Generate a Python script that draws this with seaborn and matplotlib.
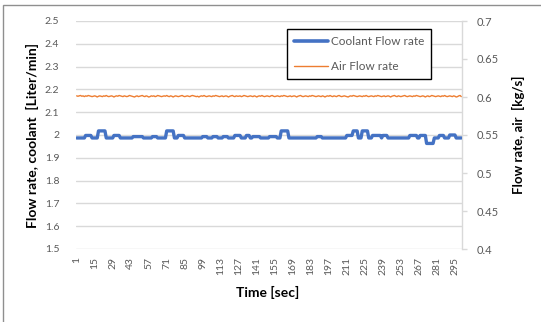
import matplotlib
matplotlib.use("Agg")
import matplotlib.pyplot as plt
from matplotlib.patches import Rectangle
from matplotlib.lines import Line2D
import seaborn as sns
import pandas as pd

# ---------------- data ----------------
time_sec = list(range(1, 301))
x_tick_labels = list(range(1, 301, 14))
left_ticks = [1.5, 1.6, 1.7, 1.8, 1.9, 2.0, 2.1, 2.2, 2.3, 2.4, 2.5]
left_tick_labels = ["1.5", "1.6", "1.7", "1.8", "1.9", "2", "2.1", "2.2", "2.3", "2.4", "2.5"]
right_ticks = [0.4, 0.45, 0.5, 0.55, 0.6, 0.65, 0.7]
right_tick_labels = ["0.4", "0.45", "0.5", "0.55", "0.6", "0.65", "0.7"]

coolant_flow = [
    1.987, 1.987, 1.987, 1.987, 1.987, 1.987, 1.987, 1.998, 1.998, 1.998, 1.998, 1.998, 1.987, 1.987, 1.987, 1.987, 1.987, 2.018, 2.018, 2.018,
    2.018, 2.018, 2.018, 1.987, 1.987, 1.987, 1.987, 1.987, 1.987, 1.998, 1.998, 1.998, 1.998, 1.998, 1.987, 1.987, 1.987, 1.987, 1.987, 1.987,
    1.987, 1.987, 1.987, 1.987, 1.993, 1.993, 1.993, 1.993, 1.993, 1.993, 1.993, 1.993, 1.987, 1.987, 1.987, 1.987, 1.987, 1.987, 1.987, 1.993,
    1.993, 1.993, 1.993, 1.987, 1.987, 1.987, 1.987, 1.987, 1.987, 1.987, 2.018, 2.018, 2.018, 2.018, 2.018, 2.018, 1.987, 1.987, 1.987, 1.998,
    1.998, 1.998, 1.998, 1.998, 1.987, 1.987, 1.987, 1.987, 1.987, 1.987, 1.987, 1.987, 1.987, 1.987, 1.987, 1.987, 1.987, 1.987, 1.993, 1.993,
    1.993, 1.993, 1.987, 1.987, 1.987, 1.987, 1.993, 1.993, 1.993, 1.993, 1.987, 1.987, 1.987, 1.987, 1.993, 1.993, 1.993, 1.993, 1.987, 1.987,
    1.987, 1.987, 1.987, 1.998, 1.998, 1.998, 1.998, 1.998, 1.987, 1.987, 1.987, 1.987, 1.998, 1.998, 1.998, 1.987, 1.987, 1.993, 1.993, 1.993,
    1.993, 1.993, 1.993, 1.987, 1.987, 1.987, 1.987, 1.987, 1.987, 1.987, 1.993, 1.993, 1.993, 1.993, 1.993, 1.993, 1.987, 1.987, 1.987, 2.018,
    2.018, 2.018, 2.018, 2.018, 2.018, 1.987, 1.987, 1.987, 1.987, 1.987, 1.987, 1.987, 1.987, 1.987, 1.987, 1.987, 1.987, 1.987, 1.987, 1.987,
    1.987, 1.987, 1.987, 1.987, 1.987, 1.987, 1.987, 1.993, 1.993, 1.993, 1.993, 1.987, 1.987, 1.987, 1.987, 1.987, 1.987, 1.987, 1.987, 1.987,
    1.987, 1.987, 1.987, 1.987, 1.987, 1.987, 1.987, 1.987, 1.987, 1.987, 1.998, 1.998, 1.998, 1.998, 1.998, 2.018, 2.018, 2.018, 2.018, 1.987,
    1.987, 1.987, 2.018, 2.018, 2.018, 2.018, 2.018, 1.987, 1.987, 1.987, 1.998, 1.998, 1.998, 1.998, 1.998, 1.998, 1.998, 1.987, 1.998, 1.998,
    1.998, 1.998, 1.987, 1.987, 1.987, 1.987, 1.987, 1.987, 1.987, 1.987, 1.987, 1.987, 1.987, 1.987, 1.987, 1.987, 1.987, 1.987, 1.987, 1.998,
    1.998, 1.998, 1.998, 1.998, 1.998, 1.987, 1.987, 1.998, 1.998, 1.998, 1.998, 1.998, 1.963, 1.963, 1.963, 1.963, 1.963, 1.963, 1.987, 1.987,
    1.987, 1.987, 1.998, 1.998, 1.998, 1.998, 1.987, 1.987, 1.987, 1.987, 2.000, 2.000, 2.000, 2.000, 2.000, 1.987, 1.987, 1.987, 1.987, 1.987,
]

air_flow = [
    0.6015, 0.6010, 0.6015, 0.6020, 0.6010, 0.6015, 0.6005, 0.6015, 0.6010, 0.6020, 0.6015, 0.6010, 0.6005, 0.6010, 0.6015, 0.6010, 0.6000, 0.6010, 0.6015, 0.6010,
    0.6005, 0.6015, 0.6010, 0.6020, 0.6010, 0.6005, 0.6010, 0.6015, 0.6010, 0.6000, 0.6010, 0.6015, 0.6010, 0.6020, 0.6015, 0.6010, 0.6005, 0.6015, 0.6010, 0.6005,
    0.6010, 0.6020, 0.6015, 0.6010, 0.6005, 0.6000, 0.6010, 0.6015, 0.6005, 0.6010, 0.6015, 0.6020, 0.6010, 0.6005, 0.6015, 0.6010, 0.6000, 0.6005, 0.6015, 0.6010,
    0.6015, 0.6005, 0.6010, 0.6020, 0.6015, 0.6010, 0.6005, 0.6010, 0.6015, 0.6010, 0.6020, 0.6010, 0.6005, 0.6015, 0.6010, 0.6000, 0.6010, 0.6015, 0.6010, 0.6005,
    0.6010, 0.6015, 0.6020, 0.6010, 0.6005, 0.6010, 0.6015, 0.6010, 0.6005, 0.6015, 0.6020, 0.6015, 0.6010, 0.6005, 0.6010, 0.6000, 0.6010, 0.6015, 0.6010, 0.6020,
    0.6010, 0.6005, 0.6010, 0.6015, 0.6010, 0.6005, 0.6015, 0.6010, 0.6020, 0.6015, 0.6010, 0.6005, 0.6010, 0.6015, 0.6005, 0.6010, 0.6015, 0.6010, 0.6000, 0.6010,
    0.6015, 0.6020, 0.6010, 0.6005, 0.6015, 0.6010, 0.6010, 0.6015, 0.6005, 0.6010, 0.6020, 0.6015, 0.6010, 0.6005, 0.6010, 0.6015, 0.6010, 0.6005, 0.6015, 0.6010,
    0.6000, 0.6010, 0.6015, 0.6010, 0.6020, 0.6010, 0.6005, 0.6010, 0.6015, 0.6010, 0.6005, 0.6015, 0.6020, 0.6010, 0.6005, 0.6010, 0.6015, 0.6010, 0.6005, 0.6015,
    0.6010, 0.6020, 0.6015, 0.6010, 0.6005, 0.6010, 0.6015, 0.6005, 0.6010, 0.6015, 0.6010, 0.6000, 0.6010, 0.6015, 0.6020, 0.6010, 0.6005, 0.6010, 0.6015, 0.6010,
    0.6005, 0.6015, 0.6010, 0.6020, 0.6015, 0.6010, 0.6005, 0.6010, 0.6015, 0.6010, 0.6005, 0.6015, 0.6010, 0.6000, 0.6010, 0.6015, 0.6010, 0.6020, 0.6010, 0.6005,
    0.6015, 0.6010, 0.6005, 0.6015, 0.6020, 0.6010, 0.6005, 0.6010, 0.6015, 0.6010, 0.6005, 0.6000, 0.6010, 0.6015, 0.6010, 0.6020, 0.6015, 0.6010, 0.6005, 0.6010,
    0.6015, 0.6010, 0.6005, 0.6015, 0.6010, 0.6020, 0.6010, 0.6005, 0.6010, 0.6015, 0.6010, 0.6005, 0.6015, 0.6010, 0.6020, 0.6015, 0.6010, 0.6005, 0.6010, 0.6015,
    0.6005, 0.6010, 0.6015, 0.6010, 0.6000, 0.6010, 0.6015, 0.6020, 0.6010, 0.6005, 0.6015, 0.6010, 0.6005, 0.6010, 0.6015, 0.6020, 0.6010, 0.6005, 0.6010, 0.6015,
    0.6010, 0.6005, 0.6015, 0.6010, 0.6020, 0.6015, 0.6010, 0.6005, 0.6010, 0.6015, 0.6010, 0.6000, 0.6010, 0.6015, 0.6005, 0.6010, 0.6020, 0.6015, 0.6010, 0.6005,
    0.6010, 0.6015, 0.6010, 0.6005, 0.6015, 0.6010, 0.6020, 0.6010, 0.6005, 0.6010, 0.6015, 0.6010, 0.6005, 0.6015, 0.6010, 0.6000, 0.6005, 0.6015, 0.6020, 0.6005,
]

series_names = ["Coolant Flow rate", "Air Flow rate"]

# ---------------- style ----------------
sns.set_theme(style="white")
plt.rcParams["font.family"] = ["Lato", "DejaVu Sans"]

BLUE = "#4472C4"
ORANGE = "#ED7D31"
GRID = "#d9d9d9"
TXT = "#595959"

df = pd.DataFrame({"time": time_sec, "coolant": coolant_flow, "air": air_flow})

fig = plt.figure(figsize=(5.41, 3.22), dpi=100)
ax = fig.add_axes([76 / 541, 1 - 249 / 322, 386 / 541, 228 / 322])
ax2 = ax.twinx()

sns.lineplot(data=df, x="time", y="coolant", ax=ax, color=BLUE, linewidth=2.4, legend=False)
sns.lineplot(data=df, x="time", y="air", ax=ax2, color=ORANGE, linewidth=1.0, legend=False)

ax.set_zorder(ax2.get_zorder() + 1)
ax.patch.set_visible(False)

ax.set_xlim(0.5, 300.5)
ax.set_ylim(1.5, 2.5)
ax2.set_ylim(0.4, 0.7)

ax.set_yticks(left_ticks)
ax.set_yticklabels(left_tick_labels)
ax.set_xticks(x_tick_labels)
ax.set_xticklabels([str(v) for v in x_tick_labels], rotation=90)
ax2.set_yticks(right_ticks)
ax2.set_yticklabels(right_tick_labels)

for a in (ax, ax2):
    for s in ("top", "left", "right", "bottom"):
        a.spines[s].set_visible(False)
ax2.spines["right"].set_visible(True)
ax2.spines["right"].set_color(GRID)
ax2.spines["right"].set_linewidth(1.0)

ax.yaxis.grid(True, color=GRID, linewidth=1.0)
ax.xaxis.grid(False)
ax2.grid(False)
ax.set_axisbelow(True)

ax.tick_params(axis="y", length=0, pad=12, labelsize=7.5, labelcolor=TXT)
ax.tick_params(axis="x", length=0, pad=6, labelsize=7.5, labelcolor=TXT)
ax2.tick_params(axis="y", length=3.5, width=1.0, color=GRID, pad=7, labelsize=8, labelcolor=TXT, direction="out")

ax.set_xlabel("Time [sec]", fontsize=10, fontweight="bold", color="black")
ax.set_ylabel("Flow rate, coolant  [Liter/min]", fontsize=10, fontweight="bold", color="black")
ax2.set_ylabel("Flow rate, air  [kg/s]", fontsize=9.5, fontweight="bold", color="black")
ax.xaxis.set_label_coords(0.497, -0.16)
ax.yaxis.set_label_coords(-0.095, 0.5)
ax2.yaxis.set_label_coords(1.13, 0.5)

handles = [Line2D([0], [0], color=BLUE, lw=2.6), Line2D([0], [0], color=ORANGE, lw=1.0)]
leg = ax.legend(handles, series_names, loc="upper left", bbox_to_anchor=(0.547, 0.965),
                frameon=True, fancybox=False, edgecolor="black", framealpha=1.0,
                fontsize=8.5, handlelength=2.9, handletextpad=0.2, labelspacing=1.2,
                borderpad=0.6, borderaxespad=0.0)
leg.get_frame().set_linewidth(1.0)
for t in leg.get_texts():
    t.set_color(TXT)

fig.add_artist(Rectangle((3 / 541, -0.1), 2.0, (1 - 5 / 322) + 0.1, transform=fig.transFigure,
                         fill=False, edgecolor="#8f8f8f", linewidth=1.0))

fig.savefig("out.png", dpi=100)
